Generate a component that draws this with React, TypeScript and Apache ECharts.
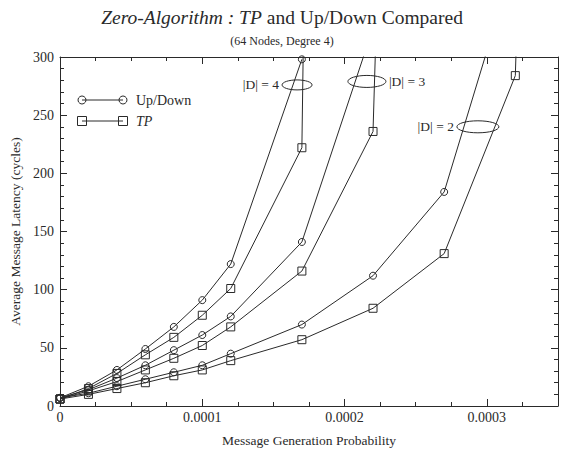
import React, { useEffect, useRef } from "react";
import * as echarts from "echarts";

const FONT = '"Liberation Serif", "Times New Roman", Times, serif';
const INK = "#2a2a2a";

const TITLE_ITALIC = "Zero-Algorithm : TP";
const TITLE_NORMAL = "and Up/Down Compared";
const SUBTITLE = "(64 Nodes, Degree 4)";
const X_NAME = "Message Generation Probability";
const Y_NAME = "Average Message Latency (cycles)";

const X_MIN = 0;
const X_MAX = 0.00035;
const X_STEP = 0.0001;
const Y_MIN = 0;
const Y_MAX = 300;
const Y_STEP = 50;

// [message generation probability, latency]
const upDown4 = [[0, 7], [0.00002, 17], [0.00004, 31], [0.00006, 49], [0.00008, 68], [0.0001, 91], [0.00012, 122], [0.00017, 298]];
const tp4 = [[0, 6], [0.00002, 15], [0.00004, 28], [0.00006, 44], [0.00008, 59], [0.0001, 78], [0.00012, 101], [0.00017, 222]];
const tp4Beyond = [0.000172, 400];

const upDown3 = [[0, 7], [0.00002, 14], [0.00004, 24], [0.00006, 35], [0.00008, 48], [0.0001, 61], [0.00012, 77], [0.00017, 141], [0.00022, 325]];
const tp3 = [[0, 6], [0.00002, 13], [0.00004, 21], [0.00006, 31], [0.00008, 41], [0.0001, 52], [0.00012, 68], [0.00017, 116], [0.00022, 236]];
const tp3Beyond = [0.000224, 400];

const upDown2 = [[0, 7], [0.00002, 11], [0.00004, 17], [0.00006, 23], [0.00008, 29], [0.0001, 35], [0.00012, 45], [0.00017, 70], [0.00022, 112], [0.00027, 184], [0.0003, 305]];
const tp2 = [[0, 6], [0.00002, 10], [0.00004, 15], [0.00006, 20], [0.00008, 26], [0.0001, 31], [0.00012, 39], [0.00017, 57], [0.00022, 84], [0.00027, 131], [0.00032, 284]];
const tp2Beyond = [0.000323, 400];

// group annotations: label, ellipse centre (data coords), side of label
const groupLabels = ["|D| = 4", "|D| = 3", "|D| = 2"];
const groupCenters = [[0.0001666, 276], [0.0002157, 279], [0.0002937, 240]];
const groupSides = ["left", "right", "left"];
const groupRadii = [[15, 5], [19, 6], [21, 6]];

const LEGEND_LABELS = ["Up/Down", "TP"];

function lineSeries(name: string, data: number[][], symbol: string, beyond?: number[]) {
  const pts: any[] = data.map((d) => d);
  if (beyond) pts.push({ value: beyond, symbol: "none" });
  return {
    type: "line",
    name,
    data: pts,
    symbol,
    symbolSize: symbol === "circle" ? 7 : 8,
    showAllSymbol: true,
    clip: true,
    lineStyle: { color: INK, width: 1 },
    itemStyle: { color: "rgba(255,255,255,0)", borderColor: INK, borderWidth: 1 },
    emphasis: { disabled: true },
    silent: true,
  };
}

export default function App() {
  const ref = useRef<HTMLDivElement>(null);
  useEffect(() => {
    if (!ref.current) return;
    const chart = echarts.init(ref.current, undefined, { renderer: "svg" });
    const axisCommon = {
      axisLine: { show: true, onZero: false, lineStyle: { color: INK, width: 1 } },
      axisTick: { show: true, inside: true, length: 7, lineStyle: { color: INK } },
      minorTick: { show: true, length: 4, lineStyle: { color: INK } },
      splitLine: { show: false },
      minorSplitLine: { show: false },
    };
    const labelStyle = { fontFamily: FONT, fontSize: 14, color: INK };
    const nameStyle = { fontFamily: FONT, fontSize: 13.5, color: INK };
    chart.setOption({
      animation: false,
      backgroundColor: "#fff",
      title: [
        {
          text: `{i|${TITLE_ITALIC}} {n|${TITLE_NORMAL}}`,
          left: "center",
          top: 2,
          textStyle: {
            rich: {
              i: { fontFamily: FONT, fontSize: 19.5, fontStyle: "italic", fontWeight: "normal", color: INK },
              n: { fontFamily: FONT, fontSize: 19.5, fontWeight: "normal", color: INK },
            },
          },
        },
        {
          text: SUBTITLE,
          left: "center",
          top: 30,
          textStyle: { fontFamily: FONT, fontSize: 12, fontWeight: "normal", color: INK },
        },
      ],
      grid: { left: 60, right: 6, top: 57, bottom: 51, containLabel: false },
      xAxis: [
        {
          type: "value",
          position: "bottom",
          min: X_MIN,
          max: X_MAX,
          interval: X_STEP,
          ...axisCommon,
          minorTick: { ...axisCommon.minorTick, splitNumber: 4 },
          axisLabel: {
            ...labelStyle,
            margin: 4,
            showMaxLabel: false,
            formatter: (v: number) => (v === 0 ? "0" : v.toFixed(4)),
          },
          name: X_NAME,
          nameLocation: "middle",
          nameGap: 27,
          nameTextStyle: { ...nameStyle },
        },
        {
          type: "value",
          position: "top",
          min: X_MIN,
          max: X_MAX,
          interval: X_STEP,
          ...axisCommon,
          minorTick: { ...axisCommon.minorTick, splitNumber: 4 },
          axisLabel: { show: false },
        },
      ],
      yAxis: [
        {
          type: "value",
          position: "left",
          min: Y_MIN,
          max: Y_MAX,
          interval: Y_STEP,
          ...axisCommon,
          minorTick: { ...axisCommon.minorTick, splitNumber: 5 },
          axisLabel: { ...labelStyle, margin: 6 },
          name: Y_NAME,
          nameLocation: "middle",
          nameGap: 34,
          nameTextStyle: { ...nameStyle },
        },
        {
          type: "value",
          position: "right",
          min: Y_MIN,
          max: Y_MAX,
          interval: Y_STEP,
          ...axisCommon,
          minorTick: { ...axisCommon.minorTick, splitNumber: 5 },
          axisLabel: { show: false },
        },
      ],
      series: [
        lineSeries("Up/Down |D|=4", upDown4, "circle"),
        lineSeries("TP |D|=4", tp4, "rect", tp4Beyond),
        lineSeries("Up/Down |D|=3", upDown3, "circle"),
        lineSeries("TP |D|=3", tp3, "rect", tp3Beyond),
        lineSeries("Up/Down |D|=2", upDown2, "circle"),
        lineSeries("TP |D|=2", tp2, "rect", tp2Beyond),
      ],
    });

    const graphics: any[] = [];
    // legend
    const legendX0 = 82;
    const legendX1 = 123;
    const legendYs = [100, 121];
    legendYs.forEach((y, i) => {
      graphics.push({
        type: "line",
        shape: { x1: legendX0, y1: y, x2: legendX1, y2: y },
        style: { stroke: INK, lineWidth: 1 },
      });
      [legendX0, legendX1].forEach((x) => {
        if (i === 0) {
          graphics.push({ type: "circle", shape: { cx: x, cy: y, r: 4 }, style: { fill: "none", stroke: INK, lineWidth: 1 } });
        } else {
          graphics.push({ type: "rect", shape: { x: x - 4.5, y: y - 4.5, width: 9, height: 9 }, style: { fill: "none", stroke: INK, lineWidth: 1 } });
        }
      });
      graphics.push({
        type: "text",
        x: 136,
        y,
        style: {
          text: LEGEND_LABELS[i],
          fontFamily: FONT,
          fontSize: 14,
          fontStyle: i === 1 ? "italic" : "normal",
          fill: INK,
          verticalAlign: "middle",
        },
      });
    });
    // group ellipses & labels
    groupCenters.forEach((c, i) => {
      const p = chart.convertToPixel({ gridIndex: 0 }, c) as number[];
      const [rx, ry] = groupRadii[i];
      graphics.push({
        type: "ellipse",
        shape: { cx: p[0], cy: p[1], rx, ry },
        style: { fill: "none", stroke: INK, lineWidth: 1 },
      });
      const left = groupSides[i] === "left";
      graphics.push({
        type: "text",
        x: left ? p[0] - rx - 3 : p[0] + rx + 3,
        y: p[1],
        style: {
          text: groupLabels[i],
          fontFamily: FONT,
          fontSize: 13.5,
          fill: INK,
          align: left ? "right" : "left",
          verticalAlign: "middle",
        },
      });
    });
    chart.setOption({ graphic: graphics });

    return () => chart.dispose();
  }, []);
  return <div ref={ref} style={{ position: "fixed", left: 0, top: 0, width: 564, height: 457 }} />;
}
